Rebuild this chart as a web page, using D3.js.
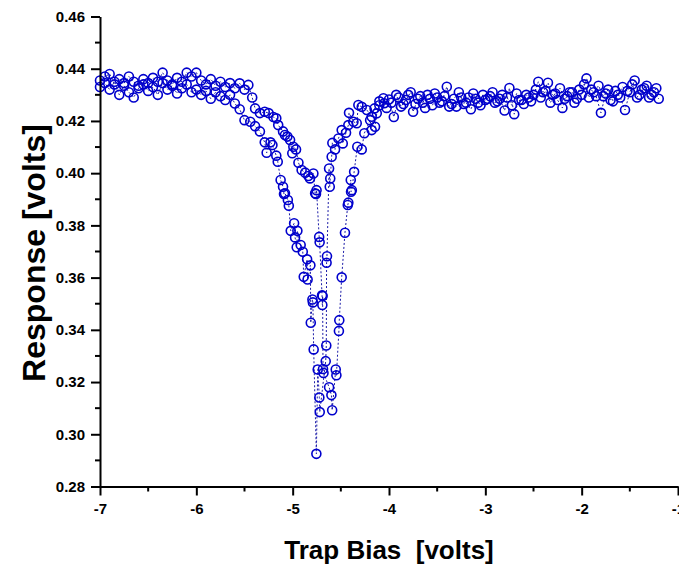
<!DOCTYPE html>
<html>
<head>
<meta charset="utf-8">
<script src="https://cdn.jsdelivr.net/npm/d3@7"></script>
<style>
  html, body { margin: 0; padding: 0; background: #fff; }
  svg { display: block; }
  text { font-family: "Liberation Sans", Arial, Helvetica, sans-serif; font-weight: bold; }
</style>
</head>
<body>
<svg id="chart" width="679" height="565"></svg>
<script>
// ---- data ----
const sweepAx = [
  -7.00,-6.95,-6.90,-6.85,-6.80,-6.75,-6.70,-6.65,-6.60,-6.55,
  -6.50,-6.45,-6.40,-6.35,-6.30,-6.25,-6.20,-6.15,-6.10,-6.05,
  -6.00,-5.95,-5.90,-5.85,-5.80,-5.75,-5.70,-5.65,-5.60,-5.55,
  -5.50,-5.44,-5.39,-5.34,-5.29,-5.27,-5.23,-5.21,-5.17,-5.155,
  -5.125,-5.10,-5.09,-5.08,-5.05,-5.04,-5.02,-4.985,-4.975,-4.958,
  -4.951,-4.917,-4.895,-4.885,-4.85,-4.845,-4.816,-4.812,-4.795,-4.790,
  -4.782,-4.754,-4.740,-4.723,-4.719,-4.657,-4.651,-4.648,-4.644,-4.622,
  -4.615,-4.610,-4.595,-4.588,-4.560,-4.525,-4.491,-4.480,-4.446,-4.422,
  -4.415,-4.369,-4.335,-4.318,-4.283,-4.230,-4.180,-4.150,-4.100,-4.050,
  -4.00,-3.95,-3.90,-3.85,-3.80,-3.75,-3.70,-3.65,-3.60,-3.55,
  -3.50,-3.45,-3.40,-3.35,-3.30,-3.25,-3.20,-3.15,-3.10,-3.05,
  -3.00,-2.95,-2.90,-2.85,-2.80,-2.75,-2.70,-2.65,-2.60,-2.55,
  -2.50,-2.45,-2.40,-2.35,-2.30,-2.25,-2.20,-2.15,-2.10,-2.05,
  -2.00,-1.95,-1.90,-1.85,-1.80,-1.75,-1.70,-1.65,-1.60,-1.55,
  -1.50,-1.45,-1.40,-1.35,-1.30,-1.25,-1.20
];
const sweepAy = [
  0.4330,0.4345,0.4320,0.4350,0.4300,0.4335,0.4310,0.4290,0.4325,0.4340,
  0.4315,0.4330,0.4300,0.4345,0.4320,0.4335,0.4305,0.4325,0.4340,0.4310,
  0.4320,0.4300,0.4315,0.4285,0.4310,0.4295,0.4280,0.4300,0.4267,0.4245,
  0.4203,0.4197,0.4180,0.4160,0.4118,0.4078,0.4118,0.4108,0.4067,0.4044,
  0.3974,0.3948,0.3920,0.3923,0.3897,0.3875,0.3779,0.3808,0.3754,0.3716,
  0.3779,0.3725,0.3699,0.3603,0.3670,0.3593,0.3647,0.3427,0.3516,0.3505,
  0.3325,0.2925,0.3248,0.3141,0.3085,0.3280,0.3340,0.3657,0.3682,0.4018,
  0.3948,0.3980,0.4063,0.4116,0.4091,0.4133,0.4165,0.4114,0.4155,0.4184,
  0.4231,0.4197,0.4191,0.4261,0.4254,0.4242,0.4216,0.4248,0.4275,0.4268,
  0.4282,0.4215,0.4290,0.4265,0.4300,0.4235,0.4285,0.4270,0.4300,0.4260,
  0.4290,0.4275,0.4331,0.4265,0.4255,0.4290,0.4270,0.4245,0.4285,0.4260,
  0.4280,0.4295,0.4270,0.4285,0.4240,0.4326,0.4226,0.4280,0.4265,0.4290,
  0.4300,0.4350,0.4310,0.4346,0.4300,0.4280,0.4250,0.4295,0.4310,0.4285,
  0.4300,0.4363,0.4320,0.4295,0.4231,0.4305,0.4280,0.4315,0.4290,0.4242,
  0.4310,0.4355,0.4300,0.4325,0.4290,0.4310,0.4285
];
const sweepBx = [
  -7.00,-6.95,-6.90,-6.85,-6.80,-6.75,-6.70,-6.65,-6.60,-6.55,
  -6.50,-6.45,-6.40,-6.35,-6.30,-6.25,-6.20,-6.15,-6.10,-6.05,
  -6.00,-5.95,-5.90,-5.85,-5.80,-5.75,-5.70,-5.65,-5.60,-5.55,
  -5.50,-5.46,-5.42,-5.39,-5.34,-5.29,-5.25,-5.20,-5.17,-5.15,
  -5.10,-5.08,-5.055,-5.027,-5.004,-4.993,-4.965,-4.940,-4.907,-4.870,
  -4.837,-4.820,-4.785,-4.767,-4.758,-4.752,-4.725,-4.720,-4.695,-4.692,
  -4.689,-4.685,-4.680,-4.622,-4.598,-4.590,-4.553,-4.546,-4.520,-4.516,
  -4.491,-4.457,-4.428,-4.422,-4.397,-4.394,-4.386,-4.362,-4.329,-4.283,
  -4.256,-4.196,-4.180,-4.145,-4.127,-4.100,-4.058,-4.025,
  -3.975,-3.925,-3.875,-3.825,-3.775,-3.725,-3.675,-3.625,-3.575,-3.525,
  -3.475,-3.425,-3.375,-3.325,-3.275,-3.225,-3.175,-3.125,-3.075,-3.025,
  -2.975,-2.925,-2.875,-2.825,-2.775,-2.725,-2.675,-2.625,-2.575,-2.525,
  -2.475,-2.425,-2.375,-2.325,-2.275,-2.225,-2.175,-2.125,-2.075,-2.025,
  -1.975,-1.925,-1.875,-1.825,-1.775,-1.725,-1.675,-1.625,-1.575,-1.525,
  -1.475,-1.425,-1.375,-1.325,-1.275,-1.225
];
const sweepBy = [
  0.4355,0.4370,0.4380,0.4340,0.4360,0.4345,0.4370,0.4350,0.4335,0.4360,
  0.4345,0.4365,0.4350,0.4385,0.4355,0.4340,0.4365,0.4350,0.4385,0.4370,
  0.4385,0.4355,0.4340,0.4360,0.4335,0.4350,0.4330,0.4345,0.4325,0.4344,
  0.4320,0.4338,0.4290,0.4248,0.4230,0.4235,0.4230,0.4215,0.4210,0.4184,
  0.4160,0.4146,0.4140,0.4127,0.4076,0.4101,0.4091,0.4040,0.4012,0.4002,
  0.3989,0.3980,0.3999,0.3923,0.3920,0.3935,0.3756,0.3735,0.3532,0.3495,
  0.3530,0.3250,0.3235,0.3180,0.3150,0.3092,0.3248,0.3226,0.3396,0.3437,
  0.3601,0.3772,0.3878,0.3887,0.3974,0.3929,0.3935,0.4005,0.4101,0.4091,
  0.4153,0.4203,0.4165,0.4178,0.4229,0.4260,0.4287,0.4250,
  0.4270,0.4300,0.4255,0.4280,0.4310,0.4265,0.4295,0.4250,0.4285,0.4305,
  0.4270,0.4295,0.4255,0.4285,0.4310,0.4265,0.4290,0.4305,0.4270,0.4300,
  0.4285,0.4310,0.4275,0.4300,0.4290,0.4260,0.4305,0.4280,0.4300,0.4275,
  0.4320,0.4290,0.4315,0.4270,0.4305,0.4325,0.4285,0.4310,0.4270,0.4320,
  0.4340,0.4290,0.4310,0.4335,0.4295,0.4320,0.4275,0.4300,0.4330,0.4315,
  0.4340,0.4290,0.4320,0.4335,0.4300,0.4325
];
const xTicks = [-7, -6, -5, -4, -3, -2, -1];
const yTicks = [0.28, 0.30, 0.32, 0.34, 0.36, 0.38, 0.40, 0.42, 0.44, 0.46];
const xTitle = "Trap Bias  [volts]";
const yTitle = "Response [volts]";

// ---- chart ----
const svg = d3.select("#chart");
const x = d3.scaleLinear().domain([-7, -1]).range([100, 678]);
const y = d3.scaleLinear().domain([0.28, 0.46]).range([486.5, 16.5]);

const series = [
  sweepAx.map((v, i) => [v, sweepAy[i]]),
  sweepBx.map((v, i) => [v, sweepBy[i]])
];

const line = d3.line().x(d => x(d[0])).y(d => y(d[1]));
svg.append("g").selectAll("path").data(series).join("path")
  .attr("d", line)
  .attr("fill", "none")
  .attr("stroke", "#1c1ca8")
  .attr("stroke-width", 1)
  .attr("stroke-dasharray", "2,2");

svg.append("g").selectAll("g").data(series).join("g")
  .selectAll("circle").data(d => d).join("circle")
  .attr("cx", d => x(d[0]))
  .attr("cy", d => y(d[1]))
  .attr("r", 4.5)
  .attr("fill", "none")
  .attr("stroke", "#0000cc")
  .attr("stroke-width", 1.6);

// axes
const xMinor = d3.range(-6.5, -1, 1);
const yMinor = d3.range(0.29, 0.46, 0.02);

const xAxis = svg.append("g").attr("transform", `translate(0,${y(0.28)})`)
  .call(d3.axisBottom(x).tickValues(xTicks).tickFormat(d => String(d)).tickSize(9).tickSizeOuter(0));
xAxis.append("g").selectAll("line").data(xMinor).join("line")
  .attr("x1", d => x(d)).attr("x2", d => x(d)).attr("y1", 0).attr("y2", 5)
  .attr("stroke", "#000").attr("stroke-width", 2);

const yAxis = svg.append("g").attr("transform", `translate(${x(-7)},0)`)
  .call(d3.axisLeft(y).tickValues(yTicks).tickFormat(d => d.toFixed(2)).tickSize(9).tickSizeOuter(0));
yAxis.append("g").selectAll("line").data(yMinor).join("line")
  .attr("y1", d => y(d)).attr("y2", d => y(d)).attr("x1", 0).attr("x2", -5)
  .attr("stroke", "#000").attr("stroke-width", 2);

[xAxis, yAxis].forEach(g => {
  g.select(".domain").attr("stroke", "#000").attr("stroke-width", 2);
  g.selectAll(".tick line").attr("stroke", "#000").attr("stroke-width", 2);
  g.selectAll(".tick text").attr("fill", "#000")
    .style("font-size", "15px").style("font-weight", "bold")
    .style("font-family", "'Liberation Sans', Arial, sans-serif");
});
xAxis.selectAll(".tick text").attr("dy", "1.05em");
yAxis.selectAll(".tick text").attr("dx", "-0.2em");

svg.append("text")
  .attr("x", 389).attr("y", 559)
  .attr("text-anchor", "middle")
  .style("font-size", "26px")
  .attr("fill", "#000")
  .attr("xml:space", "preserve")
  .text(xTitle);

svg.append("text")
  .attr("transform", `translate(45,253) rotate(-90)`)
  .attr("text-anchor", "middle")
  .style("font-size", "32px")
  .attr("fill", "#000")
  .text(yTitle);
</script>
</body>
</html>
